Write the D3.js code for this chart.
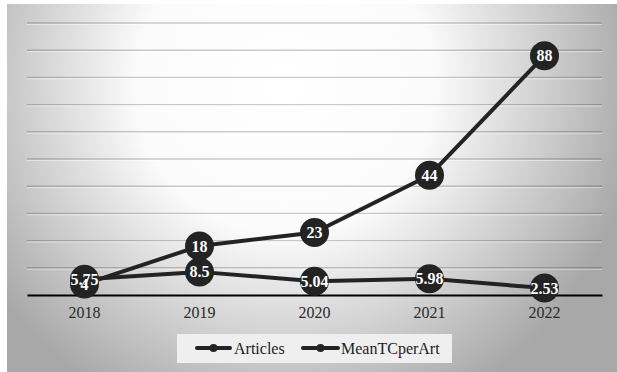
<!DOCTYPE html>
<html>
<head>
<meta charset="utf-8">
<script src="https://cdn.jsdelivr.net/npm/d3@7"></script>
<style>
  html, body { margin: 0; padding: 0; background: #fff; }
  svg { display: block; }
</style>
</head>
<body>
<svg id="chart" width="617" height="372"></svg>
<script>
// Yearly publication counts and mean total citations per article
const years = ["2018", "2019", "2020", "2021", "2022"];
const articles = [4, 18, 23, 44, 88];
const meanTCperArt = [5.75, 8.5, 5.04, 5.98, 2.53];
const seriesNames = ["Articles", "MeanTCperArt"];
const gridTicks = [10, 20, 30, 40, 50, 60, 70, 80, 90, 100];

const W = 617, H = 372;
const svg = d3.select("#chart");
const serif = "'Liberation Serif', 'DejaVu Serif', serif";
const ink = "#232323";

// Soft radial background
const defs = svg.append("defs");
const grad = defs.append("radialGradient")
  .attr("id", "bg")
  .attr("gradientUnits", "userSpaceOnUse")
  .attr("cx", 285).attr("cy", 85).attr("r", 355);
grad.append("stop").attr("offset", 0).attr("stop-color", "#ffffff");
grad.append("stop").attr("offset", 0.42).attr("stop-color", "#fbfbfb");
grad.append("stop").attr("offset", 0.78).attr("stop-color", "#c8c8c8");
grad.append("stop").attr("offset", 1).attr("stop-color", "#a8a8a8");

svg.append("rect").attr("x", 7).attr("y", 4)
  .attr("width", W - 7).attr("height", H - 4)
  .attr("fill", "url(#bg)");

const x = d3.scaleBand().domain(years).range([27, 602]).padding(0);
const y = d3.scaleLinear().domain([0, 100]).range([295, 23]);
const cx = d => x(d) + x.bandwidth() / 2;

// Horizontal gridlines
const grid = svg.append("g");
grid.selectAll("line.g").data(gridTicks).join("line")
  .attr("class", "g")
  .attr("x1", 27).attr("x2", 602)
  .attr("y1", d => y(d)).attr("y2", d => y(d))
  .attr("stroke", "#000").attr("stroke-opacity", 0.2).attr("stroke-width", 1.4);
grid.selectAll("line.h").data(gridTicks).join("line")
  .attr("class", "h")
  .attr("x1", 27).attr("x2", 602)
  .attr("y1", d => y(d) + 1.4).attr("y2", d => y(d) + 1.4)
  .attr("stroke", "#fff").attr("stroke-opacity", 0.5).attr("stroke-width", 1);

// Category axis
const xAxis = svg.append("g")
  .attr("transform", `translate(0,${y(0)})`)
  .call(d3.axisBottom(x).tickSize(0).tickPadding(12));
xAxis.select(".domain").attr("stroke", "#000").attr("stroke-width", 2.2);
xAxis.selectAll("text")
  .attr("font-family", serif).attr("font-size", 16).attr("fill", "#2a2a2a");

// Lines with markers
const line = d3.line().x(d => cx(d.year)).y(d => y(d.v));
const series = [articles, meanTCperArt].map((vals, i) => ({
  name: seriesNames[i],
  pts: vals.map((v, j) => ({ year: years[j], v }))
}));

series.forEach(s => {
  const g = svg.append("g");
  g.append("path").datum(s.pts)
    .attr("d", line).attr("fill", "none")
    .attr("stroke", ink).attr("stroke-width", 4).attr("stroke-linejoin", "round");
  g.selectAll("circle").data(s.pts).join("circle")
    .attr("cx", d => cx(d.year)).attr("cy", d => y(d.v)).attr("r", 14.5)
    .attr("fill", ink);
});

// Value labels
series.forEach(s => {
  svg.append("g").selectAll("text").data(s.pts).join("text")
    .attr("x", d => cx(d.year)).attr("y", d => y(d.v))
    .attr("dy", "0.35em")
    .attr("text-anchor", "middle")
    .attr("font-family", serif).attr("font-weight", "bold").attr("font-size", 16)
    .attr("fill", "#fff")
    .text(d => d.v);
});

// Legend
const lg = svg.append("g");
lg.append("rect").attr("x", 177).attr("y", 334).attr("width", 275).attr("height", 29)
  .attr("fill", "#efefef");
const legendPos = [{ x0: 197, x1: 230, tx: 234 }, { x0: 303, x1: 338, tx: 341 }];
seriesNames.forEach((name, i) => {
  const p = legendPos[i];
  lg.append("line").attr("x1", p.x0).attr("x2", p.x1).attr("y1", 348).attr("y2", 348)
    .attr("stroke", ink).attr("stroke-width", 4).attr("stroke-linecap", "round");
  lg.append("circle").attr("cx", (p.x0 + p.x1) / 2).attr("cy", 348).attr("r", 4)
    .attr("fill", ink);
  lg.append("text").attr("x", p.tx).attr("y", 348).attr("dy", "0.35em")
    .attr("font-family", serif).attr("font-size", 16).attr("fill", "#222")
    .text(name);
});
</script>
</body>
</html>
